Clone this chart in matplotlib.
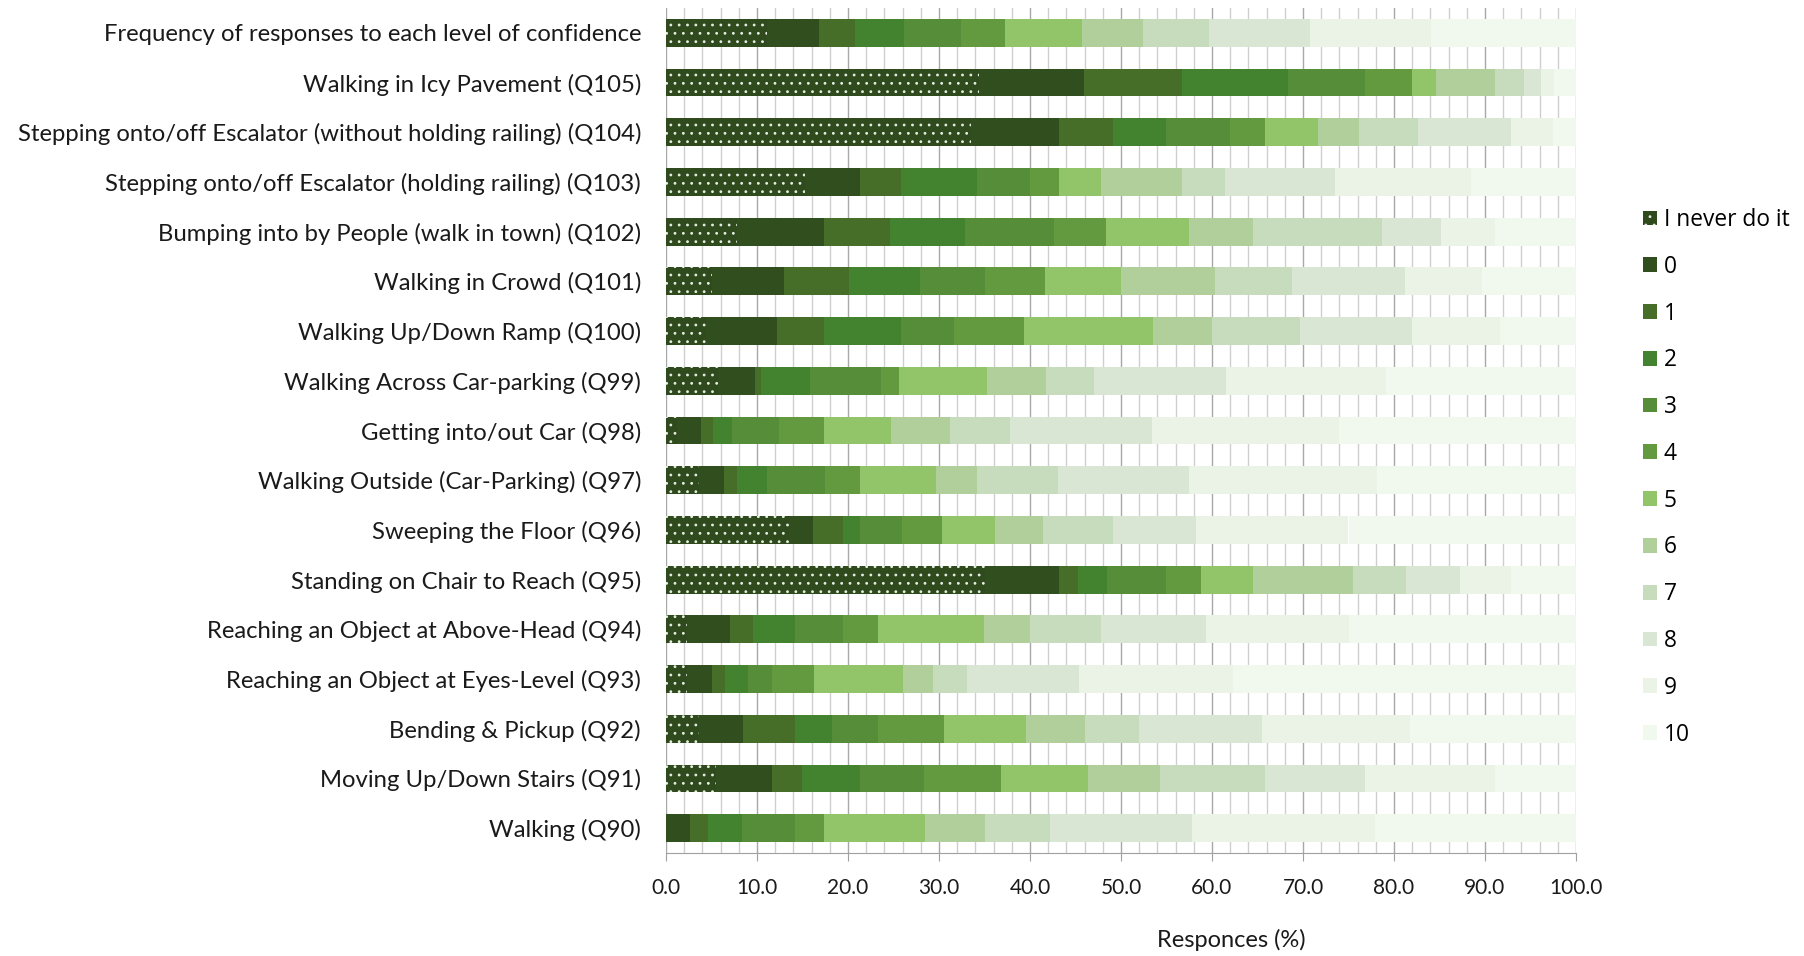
import matplotlib
matplotlib.use("Agg")
import matplotlib.pyplot as plt
from matplotlib.patches import Patch
from matplotlib.ticker import MultipleLocator, FormatStrFormatter
import numpy as np

# Activities (top to bottom)
questions = [
    "Frequency of responses to each level of confidence",
    "Walking in Icy Pavement (Q105)",
    "Stepping onto/off Escalator (without holding railing) (Q104)",
    "Stepping onto/off Escalator (holding railing) (Q103)",
    "Bumping into by People (walk in town) (Q102)",
    "Walking in Crowd (Q101)",
    "Walking Up/Down Ramp (Q100)",
    "Walking Across Car-parking (Q99)",
    "Getting into/out Car (Q98)",
    "Walking Outside (Car-Parking) (Q97)",
    "Sweeping the Floor (Q96)",
    "Standing on Chair to Reach (Q95)",
    "Reaching an Object at Above-Head (Q94)",
    "Reaching an Object at Eyes-Level (Q93)",
    "Bending & Pickup (Q92)",
    "Moving Up/Down Stairs (Q91)",
    "Walking (Q90)",
]

levels = ["I never do it", "0", "1", "2", "3", "4", "5", "6", "7", "8", "9", "10"]

# Percentage of responses per confidence level, one list per level
never = [11.1, 34.4, 33.5, 15.3, 7.8, 5.1, 4.4, 5.7, 1.2, 3.6, 13.5, 35.1, 2.3, 2.3, 3.6, 5.5, 0.0]
c0 = [5.7, 11.5, 9.7, 6.0, 9.6, 7.9, 7.8, 4.1, 2.7, 2.8, 2.6, 8.1, 4.7, 2.8, 4.9, 6.1, 2.6]
c1 = [4.0, 10.8, 5.9, 4.5, 7.2, 7.1, 5.2, 0.6, 1.3, 1.4, 3.3, 2.1, 2.6, 1.4, 5.7, 3.3, 2.0]
c2 = [5.4, 11.7, 5.8, 8.4, 8.3, 7.8, 8.4, 5.4, 2.0, 3.3, 1.9, 3.2, 4.6, 2.5, 4.0, 6.4, 3.8]
c3 = [6.2, 8.4, 7.1, 5.8, 9.7, 7.2, 5.8, 7.8, 5.2, 6.4, 4.6, 6.4, 5.2, 2.6, 5.1, 7.1, 5.8]
c4 = [4.9, 5.2, 3.8, 3.2, 5.8, 6.5, 7.7, 2.0, 5.0, 3.8, 4.4, 3.9, 3.9, 4.7, 7.2, 8.4, 3.2]
c5 = [8.4, 2.6, 5.9, 4.6, 9.1, 8.4, 14.2, 9.7, 7.3, 8.4, 5.9, 5.7, 11.6, 9.7, 9.1, 9.6, 11.1]
c6 = [6.7, 6.5, 4.4, 8.9, 7.0, 10.3, 6.5, 6.5, 6.5, 4.5, 5.2, 11.0, 5.1, 3.3, 6.4, 7.9, 6.6]
c7 = [7.3, 3.2, 6.5, 4.7, 14.2, 8.5, 9.7, 5.2, 6.6, 8.9, 7.7, 5.8, 7.8, 3.8, 6.0, 11.5, 7.1]
c8 = [11.1, 1.9, 10.3, 12.1, 6.5, 12.4, 12.3, 14.5, 15.6, 14.4, 9.1, 5.9, 11.5, 12.3, 13.5, 11.0, 15.6]
c9 = [13.3, 1.4, 4.6, 15.0, 5.9, 8.5, 9.7, 17.6, 20.6, 20.6, 16.8, 5.7, 15.7, 16.9, 16.3, 14.3, 20.1]
c10 = [15.9, 2.4, 2.5, 11.5, 8.9, 10.3, 8.3, 20.9, 26.0, 21.9, 25.0, 7.1, 25.0, 37.7, 18.2, 8.9, 22.1]

series = [never, c0, c1, c2, c3, c4, c5, c6, c7, c8, c9, c10]

colors = ["#2f4b1e", "#314e1e", "#466e28", "#43822e", "#558d38", "#639a3f",
          "#92c56a", "#b0cf9b", "#c6dcbd", "#d9e6d3", "#ebf3e7", "#f1f9ee"]

plt.rcParams["hatch.linewidth"] = 0.8

fig = plt.figure(figsize=(18.04, 9.56), dpi=100)
ax = fig.add_axes([666 / 1804, 1 - 853 / 956, 910 / 1804, 845 / 956])

y = np.arange(len(questions))
left = np.zeros(len(questions))
handles = []
for i, (vals, col, lab) in enumerate(zip(series, colors, levels)):
    vals = np.asarray(vals, dtype=float)
    if i == 0:
        ax.barh(y, vals, left=left, height=0.56, color=col, hatch="..",
                edgecolor="#e8ede4", linewidth=0, zorder=3)
        handles.append(Patch(facecolor=col, hatch="..", edgecolor="#e8ede4",
                             linewidth=0, label=lab))
    else:
        ax.barh(y, vals, left=left, height=0.56, color=col, linewidth=0, zorder=3)
        handles.append(Patch(facecolor=col, linewidth=0, label=lab))
    left += vals

ax.set_ylim(len(questions) - 0.5, -0.5)
ax.set_xlim(0, 100)
ax.set_yticks(y)
ax.set_yticklabels(questions, fontsize=17.2, family="Lato", color="#1a1a1a")
ax.tick_params(axis="y", length=0, pad=18)

ax.xaxis.set_major_locator(MultipleLocator(10))
ax.xaxis.set_minor_locator(MultipleLocator(2))
ax.xaxis.set_major_formatter(FormatStrFormatter("%.1f"))
ax.tick_params(axis="x", which="major", length=6, color="#a0a0a0", pad=12,
               labelsize=15, labelcolor="#1a1a1a")
ax.tick_params(axis="x", which="minor", length=0)
for t in ax.get_xticklabels():
    t.set_family("Lato")

ax.grid(axis="x", which="minor", color="#cfcfcf", linewidth=1, zorder=0)
ax.grid(axis="x", which="major", color="#a8a8a8", linewidth=1, zorder=0)
ax.set_axisbelow(True)
for s in ["top", "right", "left"]:
    ax.spines[s].set_visible(False)
ax.spines["bottom"].set_color("#a0a0a0")

fig.text(1231 / 1804, 1 - 940 / 956, "Responces (%)", fontsize=17,
         family="Lato", color="#1a1a1a", ha="center", va="center")

leg = fig.legend(handles=handles, loc="upper left",
                 bbox_to_anchor=(1643 / 1804, 1 - 208 / 956),
                 frameon=False, prop={"family": "Open Sans", "size": 16.4},
                 handlelength=0.62, handleheight=0.62, handletextpad=0.3,
                 labelspacing=1.0, borderpad=0, borderaxespad=0)

fig.savefig("out.png", dpi=100)
